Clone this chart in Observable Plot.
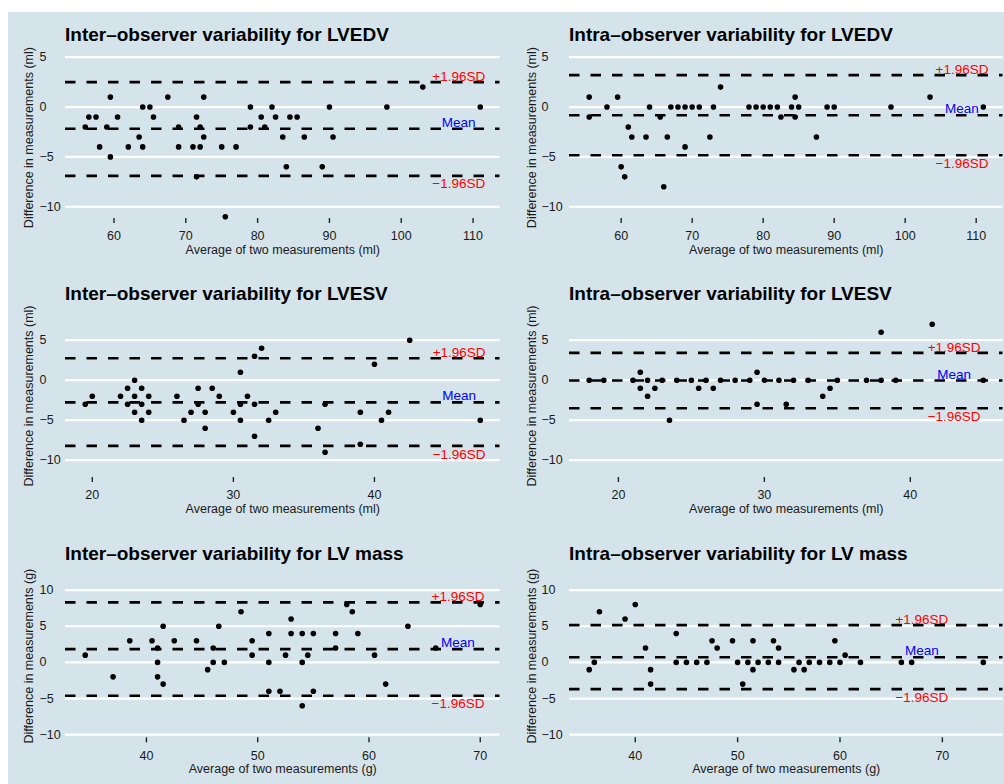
<!DOCTYPE html>
<html>
<head>
<meta charset="utf-8">
<script src="https://cdn.jsdelivr.net/npm/d3@7"></script>
<script src="https://cdn.jsdelivr.net/npm/@observablehq/plot@0.6"></script>
<style>
html,body{margin:0;padding:0;background:#ffffff;}
#wrap{position:relative;width:1004px;height:784px;overflow:hidden;background:#ffffff;font-family:"Liberation Sans",Arial,Helvetica,sans-serif;}
#bg{position:absolute;left:8px;top:12px;width:996px;height:772px;background:#d5e4eb;}
.title{position:absolute;font-weight:bold;font-size:19px;line-height:19px;white-space:nowrap;color:#000;}
</style>
</head>
<body>
<div id="wrap"><div id="bg"></div></div>
<script>
// ---------- DATA ----------
const titles = [
  "Inter–observer variability for LVEDV",
  "Intra–observer variability for LVEDV",
  "Inter–observer variability for LVESV",
  "Intra–observer variability for LVESV",
  "Inter–observer variability for LV mass",
  "Intra–observer variability for LV mass"
];
const yLabels = ["Difference in measurements (ml)", "Difference in measurements (ml)", "Difference in measurements (ml)", "Difference in measurements (ml)", "Difference in measurements (g)", "Difference in measurements (g)"];
const xLabels = ["Average of two measurements (ml)", "Average of two measurements (ml)", "Average of two measurements (ml)", "Average of two measurements (ml)", "Average of two measurements (g)", "Average of two measurements (g)"];
const lineLabels = ["+1.96SD", "Mean", "−1.96SD"];

const ticksLVEDV = [60, 70, 80, 90, 100, 110];
const ticksLVESV = [20, 30, 40];
const ticksMass = [40, 50, 60, 70];
const yTicksVol = [-10, -5, 0, 5];
const yTicksMass = [-10, -5, 0, 5, 10];

const interLVEDV_avg = [56, 56.5, 57.5, 58, 59, 59.5, 59.5, 60.5, 62, 63.5, 64, 64, 65, 65.5, 67.5, 69, 69, 71, 71.5, 71.5, 72, 72, 72.5, 72.5, 75, 75.5, 77, 79, 79, 80.5, 81, 82, 82.5, 83.5, 84, 84.5, 85.5, 86.5, 89, 90, 90.5, 98, 103, 111];
const interLVEDV_diff = [-2, -1, -1, -4, -2, 1, -5, -1, -4, -3, 0, -4, 0, -1, 1, -2, -4, -4, -1, -7, -2, -4, 1, -3, -4, -11, -4, 0, -2, -1, -2, 0, -1, -3, -6, -1, -1, -3, -6, 0, -3, 0, 2, 0];
const interLVEDV_lines = [2.5, -2.17, -6.9];

const intraLVEDV_avg = [55.5, 55.5, 58, 59.5, 60, 60.5, 61, 61.5, 63.5, 64, 65.5, 66, 66.5, 67, 68, 69, 69, 70, 71, 72.5, 73, 74, 78, 79, 80, 81, 82, 82.5, 84, 84.5, 84.5, 85, 87.5, 89, 90, 98, 103.5, 111];
const intraLVEDV_diff = [1, -1, 0, 1, -6, -7, -2, -3, -3, 0, -1, -8, -3, 0, 0, 0, -4, 0, 0, -3, 0, 2, 0, 0, 0, 0, 0, -1, 0, 1, -1, 0, -3, 0, 0, 0, 1, 0];
const intraLVEDV_lines = [3.2, -0.83, -4.83];

const interLVESV_avg = [19.5, 20, 22, 22.5, 22.5, 23, 23, 23, 23.5, 23.5, 23.5, 24, 24, 26, 26.5, 27, 27.5, 27.5, 28, 28, 28.5, 29, 30, 30.5, 30.5, 30.5, 31, 31.5, 31.5, 31.5, 32, 32.5, 33, 36, 36.5, 36.5, 39, 39, 40, 40.5, 41, 42.5, 47.5];
const interLVESV_diff = [-3, -2, -2, -1, -3, 0, -2, -4, -1, -3, -5, -2, -4, -2, -5, -4, -1, -3, -4, -6, -1, -2, -4, 1, -3, -5, -2, 3, -3, -7, 4, -5, -4, -6, -3, -9, -4, -8, 2, -5, -4, 5, -5];
const interLVESV_lines = [2.75, -2.77, -8.21];

const intraLVESV_avg = [18, 19, 21, 21.5, 21.5, 22, 22, 22.5, 23, 23.5, 24, 25, 25.5, 26, 26.5, 27, 28, 29, 29.5, 29.5, 30, 31, 31.5, 32, 33, 34, 34.5, 35, 37, 38, 38, 39, 41.5, 45];
const intraLVESV_diff = [0, 0, 0, 1, -1, 0, -2, -1, 0, -5, 0, 0, -1, 0, -1, 0, 0, 0, 1, -3, 0, 0, -3, 0, 0, -2, -1, 0, 0, 6, 0, 0, 7, 0];
const intraLVESV_lines = [3.42, -0.04, -3.5];

const interMass_avg = [34.5, 37, 38.5, 40.5, 41, 41, 41, 41.5, 41.5, 42.5, 44.5, 45.5, 46, 46, 46.5, 47, 48.5, 49.5, 49.5, 51, 51, 51, 52, 52.5, 53, 53, 54, 54, 54, 54.5, 55, 55, 57, 57, 58, 58.5, 59, 60.5, 61.5, 63.5, 66, 70];
const interMass_diff = [1, -2, 3, 3, 2, 0, -2, 5, -3, 3, 3, -1, 2, 0, 5, 0, 7, 3, 1, 4, 0, -4, -4, 1, 6, 4, 4, 0, -6, 1, 4, -4, 4, 2, 8, 7, 4, 1, -3, 5, 2, 8];
const interMass_lines = [8.3, 1.84, -4.61];

const intraMass_avg = [35.5, 36, 36.5, 39, 40, 41, 41.5, 41.5, 44, 44, 45, 46, 47, 47.5, 48, 49.5, 50, 50.5, 51, 51.5, 51.5, 52, 53, 53.5, 54, 54, 55.5, 56, 56.5, 57, 58, 59, 59.5, 60, 60.5, 62, 66, 67, 74];
const intraMass_diff = [-1, 0, 7, 6, 8, 2, -1, -3, 4, 0, 0, 0, 0, 3, 2, 3, 0, -3, 0, 3, -1, 0, 0, 3, 2, 0, -1, 0, -1, 0, 0, 0, 3, 0, 1, 0, 0, 0, 0];
const intraMass_lines = [5.16, 0.72, -3.69];

const labelX = [108, 108, 46, 43, 68, 68];

// ---------- LAYOUT ----------
const FONT = '"Liberation Sans", Arial, Helvetica, sans-serif';
const rows = [
  {svgTop: 48, height: 214, mt: 8.2, mb: 44, yDomain: [-11.18, 5.05], titleTop: 24.6},
  {svgTop: 306, height: 216, mt: 8, mb: 45, yDomain: [-12.16, 8.21], titleTop: 284.2},
  {svgTop: 566, height: 218, mt: 8, mb: 46.7, yDomain: [-10.43, 12.16], titleTop: 543.9}
];
const cols = [
  {left: 0, ml: 65, mr: 2.5, tickPad: 26, ylabDx: -36.7},
  {left: 502, ml: 67, mr: 1.5, tickPad: 28, ylabDx: -37.3}
];

const panels = [
  {row: 0, col: 0, avg: interLVEDV_avg, diff: interLVEDV_diff, lines: interLVEDV_lines, xTicks: ticksLVEDV, yTicks: yTicksVol},
  {row: 0, col: 1, avg: intraLVEDV_avg, diff: intraLVEDV_diff, lines: intraLVEDV_lines, xTicks: ticksLVEDV, yTicks: yTicksVol},
  {row: 1, col: 0, avg: interLVESV_avg, diff: interLVESV_diff, lines: interLVESV_lines, xTicks: ticksLVESV, yTicks: yTicksVol},
  {row: 1, col: 1, avg: intraLVESV_avg, diff: intraLVESV_diff, lines: intraLVESV_lines, xTicks: ticksLVESV, yTicks: yTicksVol},
  {row: 2, col: 0, avg: interMass_avg, diff: interMass_diff, lines: interMass_lines, xTicks: ticksMass, yTicks: yTicksMass},
  {row: 2, col: 1, avg: intraMass_avg, diff: intraMass_diff, lines: intraMass_lines, xTicks: ticksMass, yTicks: yTicksMass}
];

const wrap = document.getElementById("wrap");

panels.forEach((p, i) => {
  const row = rows[p.row], col = cols[p.col];
  const ext = d3.extent(p.avg);
  const pad = (ext[1] - ext[0]) * 0.05;
  const pts = p.avg.map((a, k) => ({avg: a, diff: p.diff[k]}));
  const lx = labelX[i];
  const labelMark = (k, color, dy) => Plot.text([{x: lx, y: p.lines[k], t: lineLabels[k]}], {
    x: "x", y: "y", text: "t", fill: color, fontSize: 13.5, dy, textAnchor: "middle", lineAnchor: "middle"
  });

  const chart = Plot.plot({
    width: 502,
    height: row.height,
    marginLeft: col.ml,
    marginRight: col.mr,
    marginTop: row.mt,
    marginBottom: row.mb,
    style: `background: transparent; font-family: ${FONT}; font-size: 12.5px; color: #1a1a1a; overflow: visible;`,
    x: {domain: [ext[0] - pad, ext[1] + pad]},
    y: {domain: row.yDomain},
    marks: [
      Plot.gridY(p.yTicks, {stroke: "#ffffff", strokeOpacity: 1, strokeWidth: 2.2}),
      Plot.ruleY(p.lines, {stroke: "#000000", strokeWidth: 2.6, strokeDasharray: "10.5,11"}),
      Plot.dot(pts, {x: "avg", y: "diff", r: 2.8, fill: "#000000"}),
      labelMark(0, "#ff0000", -5.5),
      labelMark(1, "#0000ff", -6.3),
      labelMark(2, "#ff0000", 8.3),
      Plot.axisX(p.xTicks, {tickSize: 5, tickPadding: 8, fontSize: 12.5, label: null, stroke: "#222", strokeWidth: 1.4}),
      Plot.axisY(p.yTicks, {tickSize: 0, tickPadding: col.tickPad, textAnchor: "start", fontSize: 12.5, label: null}),
      Plot.text([yLabels[i]], {text: d => d, frameAnchor: "left", rotate: -90, dx: col.ylabDx, textAnchor: "middle", lineAnchor: "middle", fontSize: 12.5}),
      Plot.text([xLabels[i]], {text: d => d, frameAnchor: "bottom", dy: 35.3, textAnchor: "middle", lineAnchor: "bottom", fontSize: 12.5})
    ]
  });
  chart.style.position = "absolute";
  chart.style.left = col.left + "px";
  chart.style.top = row.svgTop + "px";
  wrap.appendChild(chart);

  const t = document.createElement("div");
  t.className = "title";
  t.textContent = titles[i];
  t.style.left = (col.left + col.ml) + "px";
  t.style.top = row.titleTop + "px";
  wrap.appendChild(t);
});
</script>
</body>
</html>
